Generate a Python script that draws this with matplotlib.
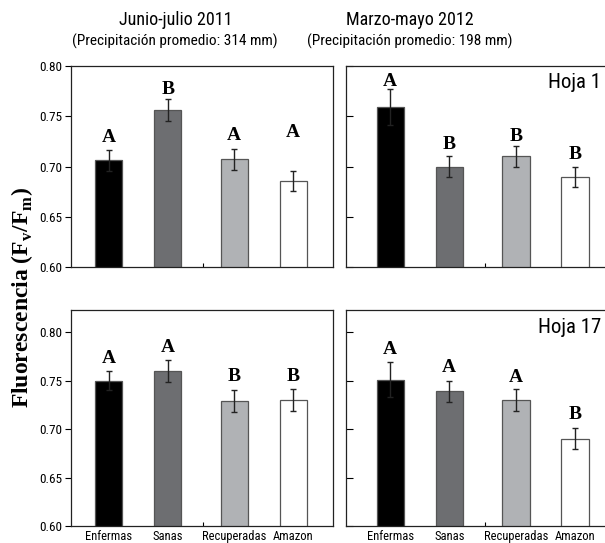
import matplotlib
matplotlib.use("Agg")
import matplotlib.pyplot as plt
from matplotlib import font_manager


def pick(names):
    have = {f.name for f in font_manager.fontManager.ttflist}
    for n in names:
        if n in have:
            return n
    return "DejaVu Sans"


sans = pick(["Liberation Sans Narrow", "Roboto Condensed", "Archivo Narrow", "Barlow Semi Condensed"])
serif = pick(["Liberation Serif", "DejaVu Serif"])
plt.rcParams["font.family"] = [sans, "DejaVu Sans"]

categories = ["Enfermas", "Sanas", "Recuperadas", "Amazon"]
colors = ["#000000", "#6d6e71", "#b0b2b5", "#ffffff"]

# hoja 1
h1_2011 = [0.706, 0.756, 0.707, 0.686]
h1_2011_err = [0.010, 0.011, 0.010, 0.010]
h1_2011_let = ["A", "B", "A", "A"]
h1_2011_ly = [0.729, 0.777, 0.731, 0.734]

h1_2012 = [0.759, 0.700, 0.710, 0.690]
h1_2012_err = [0.018, 0.010, 0.010, 0.010]
h1_2012_let = ["A", "B", "B", "B"]
h1_2012_ly = [0.785, 0.722, 0.730, 0.712]

# hoja 17
h17_2011 = [0.750, 0.760, 0.729, 0.730]
h17_2011_err = [0.010, 0.011, 0.011, 0.011]
h17_2011_let = ["A", "A", "B", "B"]
h17_2011_ly = [0.773, 0.784, 0.754, 0.754]

h17_2012 = [0.751, 0.739, 0.730, 0.690]
h17_2012_err = [0.018, 0.011, 0.011, 0.011]
h17_2012_let = ["A", "A", "A", "B"]
h17_2012_ly = [0.782, 0.764, 0.753, 0.715]

pos = [1, 2, 3.13, 4.13]
W, H = 605, 543
fig = plt.figure(figsize=(W / 100, H / 100), dpi=100)


def panel(x0, y0, w, h, vals, errs, lets, lys, xlim, ylim, left, bottom, tag=None):
    ax = fig.add_axes([x0 / W, 1 - (y0 + h) / H, w / W, h / H])
    ax.bar(pos, vals, width=0.46, color=colors, edgecolor="#555555", linewidth=0.9, zorder=2)
    ax.errorbar(pos, vals, yerr=errs, fmt="none", ecolor="#222222", elinewidth=1,
                capsize=2, capthick=1, zorder=3)
    for p, l, y in zip(pos, lets, lys):
        ax.text(p, y, l, ha="center", va="center", fontsize=14, fontweight="bold",
                family=serif)
    ax.set_xlim(*xlim)
    ax.set_ylim(*ylim)
    ax.set_yticks([0.60, 0.65, 0.70, 0.75, 0.80])
    if left:
        ax.set_yticklabels(["0.60", "0.65", "0.70", "0.75", "0.80"])
        ax.tick_params(axis="y", direction="out", length=4, labelsize=9.5, width=0.8, pad=2)
    else:
        ax.set_yticklabels([])
        ax.tick_params(axis="y", direction="in", length=5, width=0.8)
    ax.set_xticks(pos)
    ax.set_xticklabels(categories if bottom else [])
    ax.tick_params(axis="x", length=0, labelsize=9, pad=3)
    ax.set_xticks([2.6], minor=True)
    ax.tick_params(axis="x", which="minor", direction="in", length=3, width=0.8)
    for s in ax.spines.values():
        s.set_linewidth(0.9)
        s.set_color("#222222")
    if tag:
        ax.text(0.975, 0.92, tag, transform=ax.transAxes, ha="right", va="center",
                fontsize=15)
    return ax


top_lim = (0.6, 0.8)
bot_lim = (0.6, 0.823)
left_x = (0.361, 4.802)
right_x = (0.249, 4.690)

panel(71, 66, 262, 201, h1_2011, h1_2011_err, h1_2011_let, h1_2011_ly, left_x, top_lim, True, False)
panel(346, 66, 262, 201, h1_2012, h1_2012_err, h1_2012_let, h1_2012_ly, right_x, top_lim, False, False, "Hoja 1")
panel(71, 310, 262, 216, h17_2011, h17_2011_err, h17_2011_let, h17_2011_ly, left_x, bot_lim, True, True)
panel(346, 310, 262, 216, h17_2012, h17_2012_err, h17_2012_let, h17_2012_ly, right_x, bot_lim, False, True, "Hoja 17")

fig.text(176 / W, 1 - 20 / H, "Junio-julio 2011", ha="center", va="center", fontsize=13)
fig.text(175 / W, 1 - 41 / H, "(Precipitación promedio: 314 mm)", ha="center", va="center", fontsize=11)
fig.text(410 / W, 1 - 20 / H, "Marzo-mayo 2012", ha="center", va="center", fontsize=13)
fig.text(410 / W, 1 - 41 / H, "(Precipitación promedio: 198 mm)", ha="center", va="center", fontsize=11)

fig.text(22 / W, 1 - 297 / H, r"Fluorescencia (F$_\mathregular{v}$/F$_\mathregular{m}$)",
         rotation=90, ha="center", va="center", fontsize=17, fontweight="bold", family=serif)

fig.savefig("out.png", dpi=100)
